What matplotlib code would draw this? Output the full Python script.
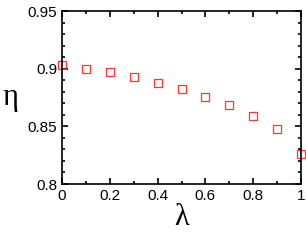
import matplotlib
matplotlib.use('Agg')
import matplotlib.pyplot as plt
from matplotlib.ticker import MultipleLocator

lam = [0.0, 0.1, 0.2, 0.3, 0.4, 0.5, 0.6, 0.7, 0.8, 0.9, 1.0]
eta = [0.903, 0.900, 0.897, 0.893, 0.888, 0.8826, 0.8757, 0.8688, 0.8587, 0.8477, 0.826]
xticks = [0, 0.2, 0.4, 0.6, 0.8, 1]
xticklabels = ['0', '0.2', '0.4', '0.6', '0.8', '1']
yticks = [0.8, 0.85, 0.9, 0.95]
yticklabels = ['0.8', '0.85', '0.9', '0.95']

plt.rcParams['font.family'] = ['Liberation Sans', 'DejaVu Sans']

fig = plt.figure(figsize=(3.06, 2.45), dpi=100)
ax = fig.add_axes([62/306, 1-184/245, 239/306, 173/245])
ax.plot(lam, eta, 's', mfc='none', mec='#ff3333', ms=5.5, mew=0.9, clip_on=False)
ax.set_xlim(0, 1)
ax.set_ylim(0.8, 0.95)
ax.set_xticks(xticks)
ax.set_xticklabels(xticklabels)
ax.set_yticks(yticks)
ax.set_yticklabels(yticklabels)
ax.xaxis.set_minor_locator(MultipleLocator(0.1))
ax.yaxis.set_minor_locator(MultipleLocator(0.01))
ax.tick_params(which='both', direction='in', top=True, right=True, labelsize=11, width=1.2)
ax.tick_params(which='major', length=4)
ax.tick_params(which='minor', length=2)
for s in ax.spines.values():
    s.set_linewidth(1.2)
ax.set_xlabel('λ', fontsize=22, family='Liberation Serif', labelpad=0)
ax.set_ylabel('η', fontsize=22, family='Liberation Serif', rotation=0, labelpad=12, va='center')
fig.savefig('out.png', dpi=100)
